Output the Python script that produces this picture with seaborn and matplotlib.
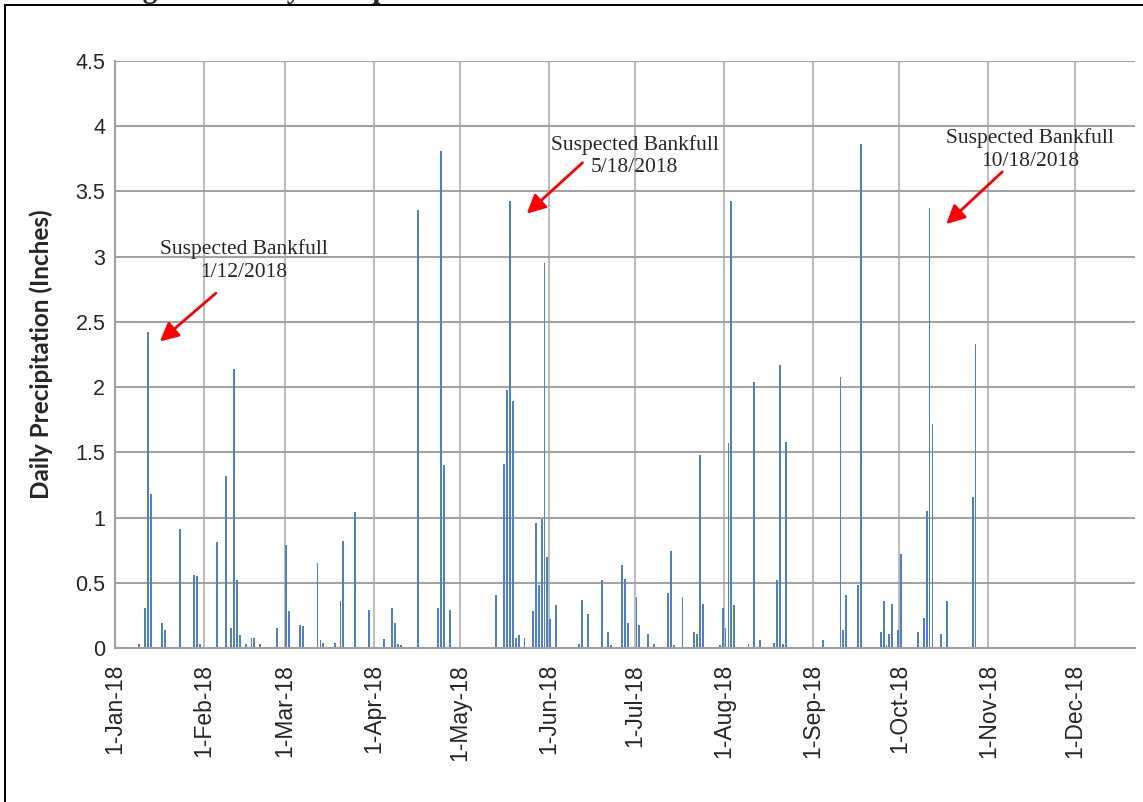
import pandas as pd
import matplotlib.pyplot as plt
import seaborn as sns
from matplotlib.patches import Rectangle

# daily precipitation (inches)
dates = ['2018-01-09', '2018-01-11', '2018-01-12', '2018-01-13', '2018-01-17', '2018-01-18',
         '2018-01-23', '2018-01-28', '2018-01-29', '2018-01-30',
         '2018-02-05', '2018-02-08', '2018-02-10', '2018-02-11', '2018-02-12', '2018-02-13',
         '2018-02-15', '2018-02-17', '2018-02-18', '2018-02-20', '2018-02-21', '2018-02-26',
         '2018-03-01', '2018-03-02', '2018-03-06', '2018-03-07', '2018-03-11', '2018-03-12',
         '2018-03-13', '2018-03-14', '2018-03-18', '2018-03-20', '2018-03-21', '2018-03-25',
         '2018-03-30',
         '2018-04-04', '2018-04-07', '2018-04-08', '2018-04-09', '2018-04-10', '2018-04-16',
         '2018-04-23', '2018-04-24', '2018-04-25', '2018-04-27',
         '2018-05-13', '2018-05-16', '2018-05-17', '2018-05-18', '2018-05-19', '2018-05-20',
         '2018-05-21', '2018-05-23', '2018-05-26', '2018-05-27', '2018-05-28', '2018-05-29',
         '2018-05-30', '2018-05-31',
         '2018-06-01', '2018-06-03', '2018-06-11', '2018-06-12', '2018-06-14', '2018-06-19',
         '2018-06-21', '2018-06-22', '2018-06-26', '2018-06-27', '2018-06-28',
         '2018-07-01', '2018-07-02', '2018-07-05', '2018-07-07', '2018-07-12', '2018-07-13',
         '2018-07-14', '2018-07-16', '2018-07-17', '2018-07-20', '2018-07-21', '2018-07-22',
         '2018-07-23', '2018-07-24', '2018-07-30', '2018-07-31',
         '2018-08-01', '2018-08-02', '2018-08-03', '2018-08-04', '2018-08-09', '2018-08-11',
         '2018-08-13', '2018-08-18', '2018-08-19', '2018-08-20', '2018-08-21', '2018-08-22',
         '2018-09-04', '2018-09-10', '2018-09-11', '2018-09-12', '2018-09-16', '2018-09-17',
         '2018-09-24', '2018-09-25', '2018-09-26', '2018-09-27', '2018-09-28', '2018-09-30',
         '2018-10-01', '2018-10-07', '2018-10-09', '2018-10-10', '2018-10-11', '2018-10-12',
         '2018-10-15', '2018-10-17', '2018-10-26', '2018-10-27']
precip = [0.03, 0.31, 2.42, 1.18, 0.19, 0.14,
          0.91, 0.56, 0.55, 0.03,
          0.81, 1.32, 0.15, 2.14, 0.52, 0.10,
          0.03, 0.08, 0.08, 0.03, 0.01, 0.15,
          0.79, 0.28, 0.18, 0.17, 0.01, 0.65,
          0.06, 0.04, 0.04, 0.36, 0.82, 1.04,
          0.29,
          0.07, 0.31, 0.19, 0.03, 0.02, 3.36,
          0.31, 3.81, 1.40, 0.29,
          0.41, 1.41, 1.98, 3.43, 1.89, 0.08,
          0.10, 0.08, 0.28, 0.96, 0.48, 0.99,
          2.95, 0.70,
          0.22, 0.33, 0.03, 0.37, 0.26, 0.52,
          0.12, 0.02, 0.64, 0.53, 0.19,
          0.39, 0.18, 0.11, 0.03, 0.42, 0.74,
          0.02, 0.01, 0.39, 0.01, 0.12, 0.11,
          1.48, 0.34, 0.02, 0.31,
          0.15, 1.57, 3.43, 0.33, 0.03, 2.04,
          0.06, 0.04, 0.52, 2.17, 0.03, 1.58,
          0.06, 2.08, 0.14, 0.41, 0.48, 3.86,
          0.12, 0.36, 0.02, 0.11, 0.34, 0.14,
          0.72, 0.12, 0.23, 1.05, 3.37, 1.72,
          0.11, 0.36, 1.16, 2.33]

month_starts = ['2018-01-01', '2018-02-01', '2018-03-01', '2018-04-01', '2018-05-01', '2018-06-01',
                '2018-07-01', '2018-08-01', '2018-09-01', '2018-10-01', '2018-11-01', '2018-12-01']
month_labels = ['1-Jan-18', '1-Feb-18', '1-Mar-18', '1-Apr-18', '1-May-18', '1-Jun-18',
                '1-Jul-18', '1-Aug-18', '1-Sep-18', '1-Oct-18', '1-Nov-18', '1-Dec-18']
y_ticks = [0, 0.5, 1, 1.5, 2, 2.5, 3, 3.5, 4, 4.5]
y_labels = ['0', '0.5', '1', '1.5', '2', '2.5', '3', '3.5', '4', '4.5']

notes = ['Suspected Bankfull\n1/12/2018', 'Suspected Bankfull\n5/18/2018', 'Suspected Bankfull\n10/18/2018']
note_xy = [(44.9, 2.97), (180.8, 3.77), (318.5, 3.82)]
arrow_tail = [(35.1, 2.72), (162.7, 3.72), (308.8, 3.65)]
arrow_tip = [(15.6, 2.35), (143.3, 3.33), (289.3, 3.25)]

start = pd.Timestamp('2018-01-01')
df = pd.DataFrame({'date': pd.to_datetime(dates), 'precip': precip})
df['day'] = (df['date'] - start).dt.days + 0.5
tick_pos = (pd.to_datetime(month_starts) - start).days

sns.set_style('white')
plt.rcParams['font.family'] = ['Liberation Sans', 'DejaVu Sans']

fig = plt.figure(figsize=(11.43, 8.02), dpi=100)
ax = fig.add_axes([115 / 1143, 154 / 802, 1020 / 1143, 587 / 802])

sns.barplot(data=df, x='day', y='precip', native_scale=True, width=0.65, color='#4F81BD',
            saturation=1, linewidth=0, errorbar=None, ax=ax)

ax.set_xlim(0, 355)
ax.set_ylim(0, 4.5)
ax.set_xticks(tick_pos, month_labels, rotation=90)
ax.set_yticks(y_ticks, y_labels)
ax.grid(True, axis='y', color='#a3a3a3', lw=1.5)
ax.grid(True, axis='x', color='#bdbdbd', lw=1.5)
ax.set_axisbelow(True)
for s in ['top', 'right']:
    ax.spines[s].set_visible(False)
for s in ['left', 'bottom']:
    ax.spines[s].set_color('#a0a0a0')
    ax.spines[s].set_linewidth(1.5)
ax.tick_params(axis='x', length=5.5, width=1.5, color='#a0a0a0', labelsize=16.5, pad=6)
ax.tick_params(axis='y', length=3, width=1.5, color='#a0a0a0', labelsize=15.5, pad=4)
ax.set_xlabel('')
ax.set_ylabel('Daily Precipitation (Inches)', family='Lato', fontweight='bold', fontsize=17.5, labelpad=16)

for txt, xy, tail, tip in zip(notes, note_xy, arrow_tail, arrow_tip):
    ax.text(xy[0], xy[1], txt, ha='center', va='center', family='Liberation Serif',
            fontsize=15.5, linespacing=1.25)
    ax.annotate('', xy=tip, xytext=tail,
                arrowprops=dict(arrowstyle='-|>', color='red', lw=2, mutation_scale=28,
                                shrinkA=0, shrinkB=0))

# title above the frame, cut off by the crop
fig.text(117 / 1143, 1 + 1.5 / 802, 'Figure 4. Daily Precipitation', va='baseline', ha='left',
         family='Liberation Serif', fontweight='bold', fontsize=21)
fig.add_artist(Rectangle((4.5 / 1143, -0.5), 2, 0.5 + 797 / 802, fill=False, ec='black',
                         lw=1.4, transform=fig.transFigure))

plt.savefig('out.png', dpi=100)
